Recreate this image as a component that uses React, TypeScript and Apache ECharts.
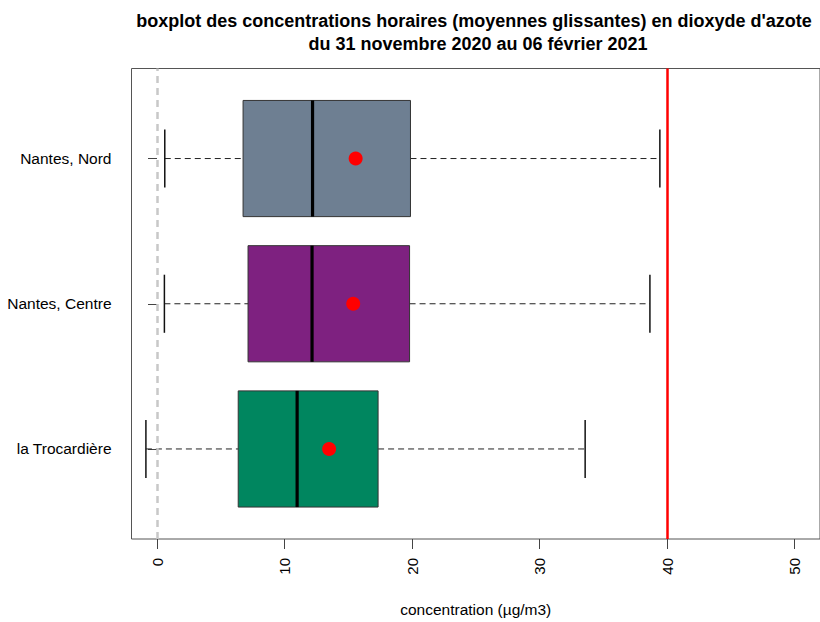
import React, { useEffect, useRef } from "react";
import * as echarts from "echarts";

// ---- data ----
const stations = ["la Trocardière", "Nantes, Centre", "Nantes, Nord"];
const whiskerLow = [-0.87, 0.58, 0.61];
const quart1 = [6.37, 7.14, 6.75];
const medians = [10.99, 12.16, 12.2];
const quart3 = [17.34, 19.81, 19.88];
const whiskerHigh = [33.58, 38.66, 39.44];
const means = [13.5, 15.39, 15.58];
const xTicks = [0, 10, 20, 30, 40, 50];
const refZero = 0;
const limitValue = 40;

const titleLine1 =
  "boxplot des concentrations horaires (moyennes glissantes) en dioxyde d'azote";
const titleLine2 = "du 31 novembre 2020 au 06 février 2021";
const xTitle = "concentration (µg/m3)";

// ---- styles ----
const boxColors = ["#00865F", "#7E2180", "#6E7F92"];
const FONT = "Liberation Sans, Arial, Helvetica, sans-serif";

export default function App() {
  const ref = useRef<HTMLDivElement>(null);

  useEffect(() => {
    document.body.style.margin = "0";
    if (!ref.current) return;
    const chart = echarts.init(ref.current, null, { renderer: "svg" });

    const boxData = stations.map((_, i) => [
      i + 1,
      whiskerLow[i],
      quart1[i],
      medians[i],
      quart3[i],
      whiskerHigh[i],
    ]);

    const renderItem = (params: any, api: any) => {
      const i = params.dataIndex;
      const pos = api.value(0);
      const pLw = api.coord([api.value(1), pos]);
      const pQ1 = api.coord([api.value(2), pos]);
      const pMed = api.coord([api.value(3), pos]);
      const pQ3 = api.coord([api.value(4), pos]);
      const pUw = api.coord([api.value(5), pos]);
      const yc = pQ1[1];
      const halfBox = api.size([0, 0.4])[1];
      const halfCap = api.size([0, 0.2])[1];
      const dash = { stroke: "#222", lineWidth: 1, lineDash: [6, 4] };
      return {
        type: "group",
        children: [
          { type: "line", shape: { x1: pLw[0], y1: yc, x2: pQ1[0], y2: yc }, style: dash },
          { type: "line", shape: { x1: pQ3[0], y1: yc, x2: pUw[0], y2: yc }, style: dash },
          {
            type: "line",
            shape: { x1: pLw[0], y1: yc - halfCap, x2: pLw[0], y2: yc + halfCap },
            style: { stroke: "#111", lineWidth: 1.5 },
          },
          {
            type: "line",
            shape: { x1: pUw[0], y1: yc - halfCap, x2: pUw[0], y2: yc + halfCap },
            style: { stroke: "#111", lineWidth: 1.5 },
          },
          {
            type: "rect",
            shape: {
              x: pQ1[0],
              y: yc - halfBox,
              width: pQ3[0] - pQ1[0],
              height: halfBox * 2,
            },
            style: { fill: boxColors[i], stroke: "#333", lineWidth: 1 },
          },
          {
            type: "line",
            shape: { x1: pMed[0], y1: yc - halfBox, x2: pMed[0], y2: yc + halfBox },
            style: { stroke: "#000", lineWidth: 3.2 },
          },
        ],
      };
    };

    chart.setOption({
      animation: false,
      backgroundColor: "#fff",
      graphic: [
        {
          type: "text",
          x: 474,
          y: 21,
          style: {
            text: titleLine1,
            textAlign: "center",
            textVerticalAlign: "middle",
            font: `bold 18px ${FONT}`,
            fill: "#000",
          },
        },
        {
          type: "text",
          x: 478,
          y: 44,
          style: {
            text: titleLine2,
            textAlign: "center",
            textVerticalAlign: "middle",
            font: `bold 18px ${FONT}`,
            fill: "#000",
          },
        },
      ],
      grid: {
        left: 131.5,
        top: 68.5,
        width: 693.5,
        height: 479,
        show: true,
        borderColor: "#555",
        borderWidth: 1,
        backgroundColor: "transparent",
        containLabel: false,
      },
      xAxis: {
        type: "value",
        min: -2,
        max: 52,
        splitLine: { show: false },
        axisLine: { show: false },
        axisTick: {
          show: true,
          customValues: xTicks,
          length: 10,
          lineStyle: { color: "#444", width: 1 },
        },
        axisLabel: {
          customValues: xTicks,
          rotate: 90,
          margin: 19,
          fontSize: 15,
          fontFamily: FONT,
          color: "#000",
        },
        name: xTitle,
        nameLocation: "middle",
        nameGap: 62,
        nameTextStyle: { fontSize: 15.5, fontFamily: FONT, color: "#000" },
      },
      yAxis: {
        type: "value",
        min: 0.38,
        max: 3.62,
        splitLine: { show: false },
        axisLine: { show: false },
        axisTick: {
          show: true,
          customValues: [1, 2, 3],
          length: 9,
          lineStyle: { color: "#444", width: 1 },
        },
        axisLabel: {
          customValues: [1, 2, 3],
          formatter: (v: number) => stations[Math.round(v) - 1] ?? "",
          margin: 20,
          fontSize: 15.5,
          fontFamily: FONT,
          color: "#000",
        },
      },
      series: [
        {
          type: "custom",
          renderItem,
          data: boxData,
          encode: { x: [1, 2, 3, 4, 5], y: 0 },
          z: 2,
          silent: true,
        },
        {
          type: "scatter",
          data: means.map((m, i) => [m, i + 1]),
          symbol: "circle",
          symbolSize: 14,
          itemStyle: { color: "#ff0000", opacity: 1 },
          z: 5,
          silent: true,
          markLine: {
            silent: true,
            symbol: "none",
            label: { show: false },
            data: [
              {
                xAxis: refZero,
                lineStyle: { color: "#c8c8c8", type: [7, 5], width: 2.5 },
              },
              {
                xAxis: limitValue,
                lineStyle: { color: "#ff0000", type: "solid", width: 2.5 },
              },
            ],
          },
        },
      ],
    });

    return () => chart.dispose();
  }, []);

  return <div ref={ref} style={{ width: 820, height: 622 }} />;
}
